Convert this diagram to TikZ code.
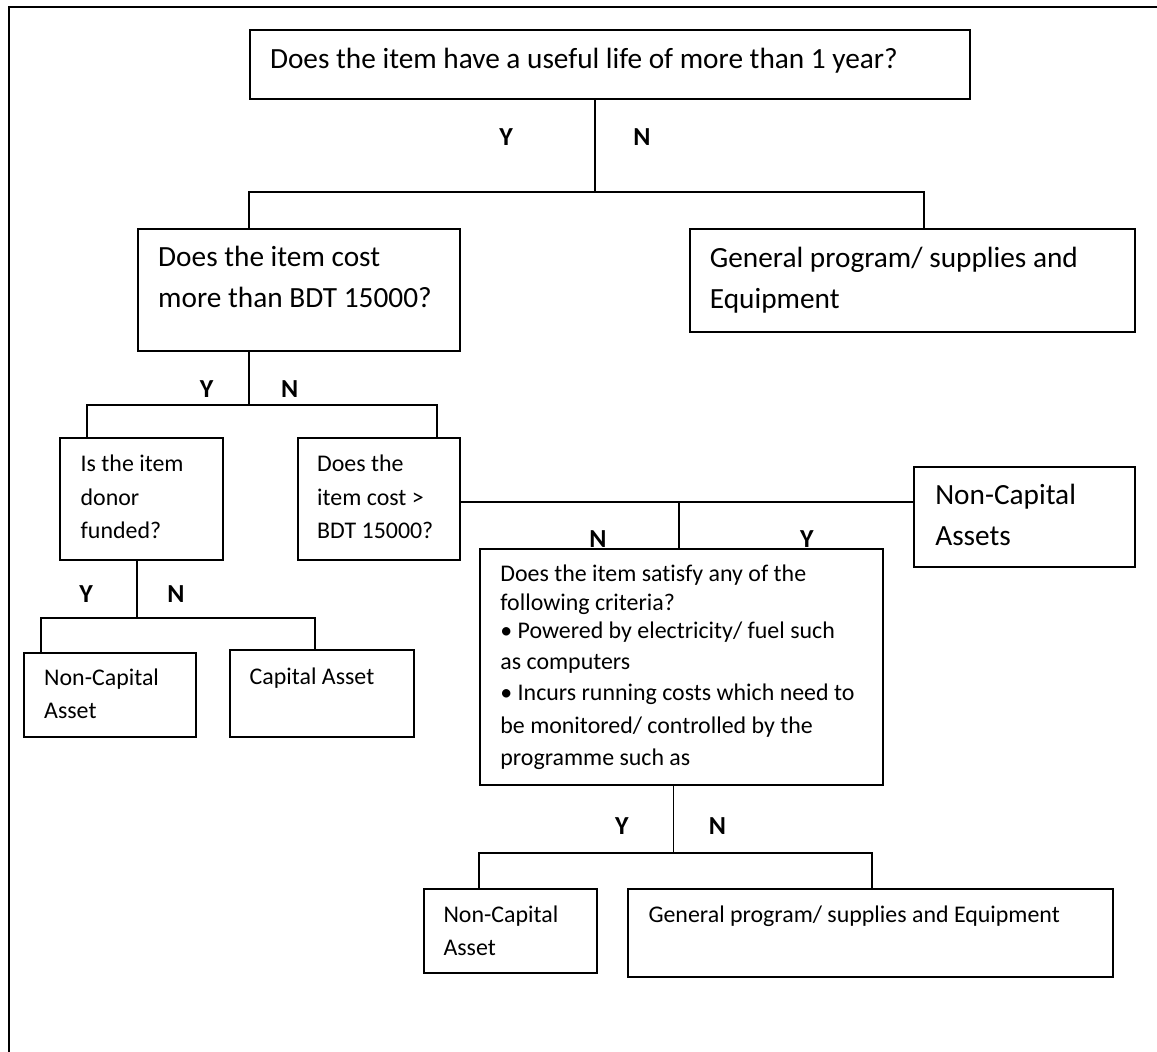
\documentclass[tikz,border=0pt]{standalone}
\usepackage{fontspec}
\setmainfont{Carlito}[Ligatures=NoCommon]
\newcommand\mybigtxt{\fontsize{29.3}{41.5}\selectfont}
\newcommand\mysmalltxt{\fontsize{23.9}{33.5}\selectfont}
\newcommand\mysmallbtxt{\fontsize{23.9}{28.5}\selectfont}
\newcommand\mynativespace{\spaceskip 0pt\xspaceskip 0pt\relax}
\begin{document}
\begin{tikzpicture}[x=1pt,y=-1pt]
\tikzset{
  box/.style={draw, line width=2pt, inner sep=0pt, anchor=north west},
  txt/.style={inner sep=0pt, anchor=base west, align=left, text width=900pt,
    execute at begin node=\mynativespace},
  big/.style={font=\mybigtxt},
  small/.style={font=\mysmalltxt},
  smallb/.style={font=\mysmallbtxt},
  yn/.style={font=\fontsize{26}{26}\selectfont\bfseries, inner sep=0pt, anchor=base},
  link/.style={line width=1.8pt},
  frame/.style={line width=2.4pt},
}
\useasboundingbox (0,0) rectangle (1157,1052);
\draw[frame] (9,1052) -- (9,7) -- (1157,7);

% boxes
\node[box, minimum width=720.6pt, minimum height=69pt] (t) at (248.8,29) {};
\node[box, minimum width=322.6pt, minimum height=122pt] (b2) at (136.6,228) {};
\node[box, minimum width=445.2pt, minimum height=103pt] (b3) at (688.7,228) {};
\node[box, minimum width=163pt, minimum height=122pt] (b4) at (58.5,437) {};
\node[box, minimum width=162.2pt, minimum height=122pt] (b5) at (297,437) {};
\node[box, minimum width=221pt, minimum height=100pt] (b7) at (913,466) {};
\node[box, minimum width=402.8pt, minimum height=236pt] (b6) at (479,548) {};
\node[box, minimum width=172.2pt, minimum height=84pt] (bl1) at (23,652) {};
\node[box, minimum width=184.4pt, minimum height=87pt] (bl2) at (228.9,649) {};
\node[box, minimum width=173pt, minimum height=84pt] (b8) at (422.7,888) {};
\node[box, minimum width=485pt, minimum height=88pt] (b9) at (626.7,888) {};

% texts
\node[txt, big] (tt) at (269.8,68) {Does the item have a useful life of more than 1 year?};
\node[txt, big] (b2t) at (158,266) {Does the item cost\\more than BDT 15000?};
\node[txt, big] (b3t) at (709.7,267) {General program/ supplies and\\Equipment};
\node[txt, big] (b7t) at (935.1,504) {Non-Capital\\Assets};
\node[txt, small] (b4t) at (80.5,471.5) {Is the item\\donor\\funded?};
\node[txt, small] (b5t) at (317,471.5) {Does the\\item cost >\\BDT 15000?};
\node[txt, smallb] (b6t) at (500.2,581.5)
  {Does the item satisfy any of the\\following criteria?\\• Powered by electricity/ fuel such\\[2pt]as computers\\[2.5pt]• Incurs running costs which need to\\[4.5pt]be monitored/ controlled by the\\[3.5pt]programme such as};
\node[txt, small] (bl1t) at (44,685) {Non-Capital\\Asset};
\node[txt, small] (bl2t) at (249.5,684) {Capital Asset};
\node[txt, small] (b8t) at (443.3,922) {Non-Capital\\Asset};
\node[txt, small] (b9t) at (648.3,922) {General program/ supplies and Equipment};

% Y/N labels
\node[yn] (y1) at (506,145) {Y};
\node[yn] (n1) at (641.9,145) {N};
\node[yn] (y2) at (206.7,397) {Y};
\node[yn] (n2) at (289.7,397) {N};
\node[yn] (y3) at (86.1,602) {Y};
\node[yn] (n3) at (176,602) {N};
\node[yn] (n4) at (598,547) {N};
\node[yn] (y4) at (806.8,547) {Y};
\node[yn] (y5) at (621.9,834) {Y};
\node[yn] (n5) at (717.5,834) {N};

% junction coordinates
\coordinate (j1) at (595,192);
\coordinate (l1) at (248.8,192);
\coordinate (r1) at (923.7,192);
\coordinate (j2) at (248.8,405);
\coordinate (l2) at (87.3,405);
\coordinate (r2) at (437,405);
\coordinate (j3) at (679.2,502);
\coordinate (j4) at (137,618);
\coordinate (l4) at (41.3,618);
\coordinate (r4) at (315.3,618);
\coordinate (j5) at (673.5,853);
\coordinate (l5) at (478.7,853);
\coordinate (r5) at (871.8,853);

% connectors
\draw[link] (t.south -| j1) -- (j1);
\draw[link] (l1 |- b2.north) -- (l1) -- (r1) -- (r1 |- b3.north);
\draw[link] (b2.south -| j2) -- (j2);
\draw[link] (l2 |- b4.north) -- (l2) -- (r2) -- (r2 |- b5.north);
\draw[link] (b5.east |- j3) -- (b7.west |- j3);
\draw[link] (j3) -- (j3 |- b6.north);
\draw[link] (b4.south -| j4) -- (j4);
\draw[link] (l4 |- bl1.north) -- (l4) -- (r4) -- (r4 |- bl2.north);
\draw[link] (b6.south -| j5) -- (j5);
\draw[link] (l5 |- b8.north) -- (l5) -- (r5) -- (r5 |- b9.north);
\end{tikzpicture}
\end{document}
